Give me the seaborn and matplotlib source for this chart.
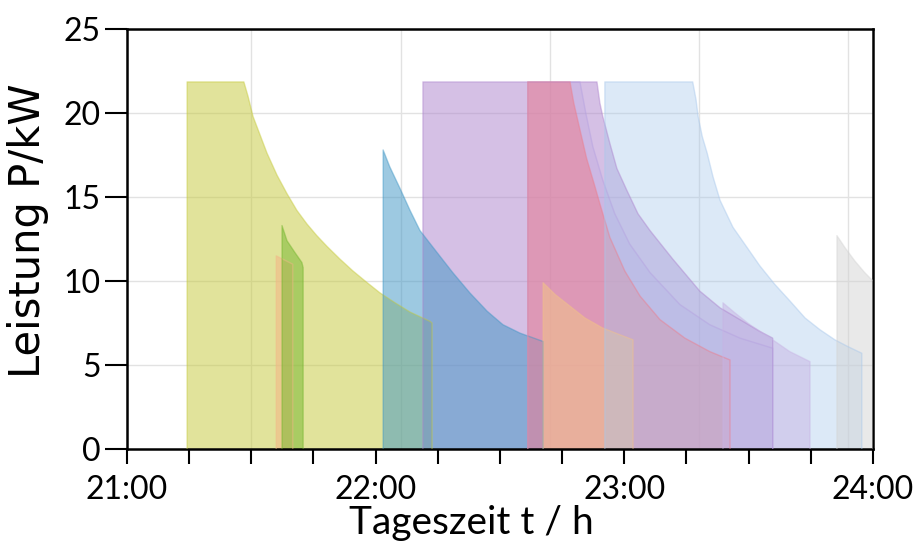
import numpy as np
import pandas as pd
import matplotlib
matplotlib.use("Agg")
import matplotlib.pyplot as plt
import seaborn as sns

# ---------------- data (time in minutes after 21:00, power in kW) ----------------
yellow_t = [14.5, 14.5, 28.2, 29.2, 30.4, 32.1, 33.8, 36.2, 38.6, 41.0, 43.4, 45.8, 48.3,
            51.4, 54.5, 57.7, 61.0, 64.7, 68.3, 73.1, 73.6, 73.6]
yellow_p = [0, 21.85, 21.85, 21.0, 19.8, 18.7, 17.6, 16.3, 15.2, 14.2, 13.4, 12.7, 12.05,
            11.3, 10.6, 9.95, 9.3, 8.7, 8.15, 7.6, 7.5, 0]

orange1_t = [36.0, 36.0, 40.0, 40.0]
orange1_p = [0, 11.5, 11.0, 0]

green_t = [37.4, 37.4, 38.6, 40.5, 42.2, 42.5, 42.5]
green_p = [0, 13.3, 12.4, 11.7, 11.1, 10.8, 0]

purple_t = [71.4, 71.4, 113.4, 114.1, 114.8, 116.5, 118.2, 120.6, 123.3, 126.2, 131.7,
            138.2, 143.1, 147.9, 152.7, 155.8, 155.8]
purple_p = [0, 21.85, 21.85, 20.6, 19.8, 18.2, 16.7, 15.4, 14.0, 13.0, 11.3,
            9.4, 8.4, 7.7, 7.0, 6.6, 0]

blue_t = [61.8, 61.8, 63.4, 65.9, 68.3, 70.7, 74.8, 78.6, 82.7, 86.9, 90.7, 94.8, 100.4, 100.4]
blue_p = [0, 17.8, 16.8, 15.5, 14.2, 13.0, 11.7, 10.5, 9.3, 8.2, 7.4, 6.9, 6.4, 0]

lavender_t = [96.7, 96.7, 109.3, 110.7, 112.4, 114.8, 117.7, 121.3, 126.2, 133.4, 140.6,
              147.9, 155.8, 155.8]
lavender_p = [0, 21.85, 21.85, 20.0, 18.0, 16.0, 14.0, 12.2, 10.5, 8.6, 7.4,
              6.6, 6.0, 0]

pink_t = [96.7, 96.7, 106.9, 107.8, 109.3, 110.9, 112.7, 114.1, 116.5, 120.1, 123.8,
          128.6, 134.6, 140.6, 145.5, 145.5]
pink_p = [0, 21.85, 21.85, 20.6, 19.0, 17.3, 15.8, 14.6, 12.6, 10.6, 9.1,
          7.7, 6.6, 5.8, 5.3, 0]

orange2_t = [100.4, 100.4, 103.3, 106.9, 110.5, 114.8, 118.9, 122.1, 122.1]
orange2_p = [0, 9.9, 9.2, 8.5, 7.8, 7.2, 6.8, 6.5, 0]

lightblue_t = [115.3, 115.3, 136.5, 137.3, 137.8, 138.8, 140.0, 141.4, 143.1, 146.2, 149.6,
               152.7, 156.3, 160.0, 163.6, 167.2, 170.8, 173.9, 177.3, 177.3]
lightblue_p = [0, 21.85, 21.85, 20.8, 19.8, 18.6, 17.6, 16.2, 14.8, 13.2, 12.0,
               10.9, 9.8, 8.8, 7.8, 7.1, 6.5, 6.1, 5.7, 0]

lilac_t = [143.8, 143.8, 146.7, 150.3, 155.8, 159.9, 164.8, 164.8]
lilac_p = [0, 8.7, 8.1, 7.4, 6.5, 5.8, 5.2, 0]

grey_t = [171.3, 171.3, 173.2, 175.6, 178.0, 180.0, 180.0]
grey_p = [0, 12.7, 12.0, 11.2, 10.5, 10.0, 0]

x_ticks = [21.0, 21.25, 21.5, 21.75, 22.0, 22.25, 22.5, 22.75, 23.0, 23.25, 23.5, 23.75, 24.0]
x_tick_labels = ["21:00", "", "", "", "22:00", "", "", "", "23:00", "", "", "", "24:00"]
y_ticks = [0, 5, 10, 15, 20, 25]
y_tick_labels = ["0", "5", "10", "15", "20", "25"]

# ---------------- styling ----------------
series = [
    ("yellow", yellow_t, yellow_p, "#c5c939", 0.5),
    ("orange1", orange1_t, orange1_p, "#f2b888", 0.6),
    ("green", green_t, green_p, "#72b62c", 0.5),
    ("purple", purple_t, purple_p, "#ad83cd", 0.5),
    ("blue", blue_t, blue_p, "#3d95c5", 0.5),
    ("lavender", lavender_t, lavender_p, "#b4a0e0", 0.25),
    ("pink", pink_t, pink_p, "#ee7b8a", 0.5),
    ("orange2", orange2_t, orange2_p, "#f2c288", 0.55),
    ("lightblue", lightblue_t, lightblue_p, "#a8c8ec", 0.4),
    ("lilac", lilac_t, lilac_p, "#c8b4e4", 0.5),
    ("grey", grey_t, grey_p, "#d4d4d4", 0.5),
]

rows = []
for name, t, p, c, a in series:
    for ti, pi in zip(t, p):
        rows.append({"series": name, "hour": 21 + ti / 60.0, "P": pi})
df = pd.DataFrame(rows)

sns.set_theme(style="white")
plt.rcParams["font.family"] = ["Lato", "DejaVu Sans"]

fig = plt.figure(figsize=(9.21, 5.45), dpi=100)
ax = fig.add_axes([127 / 921, 96 / 545, 746 / 921, 420 / 545])

# background grid (light)
for y in [5, 10, 15, 20]:
    ax.axhline(y, color="#e2e2e2", lw=1.0, zorder=0)
for x in [21.5, 22.1, 22.7, 23.3, 23.9]:
    ax.axvline(x, color="#e2e2e2", lw=1.0, zorder=0)

for i, (name, t, p, c, a) in enumerate(series):
    sub = df[df["series"] == name]
    ax.fill(sub["hour"], sub["P"], color=c, alpha=a, lw=0, zorder=2 + i * 0.01)

palette = {name: c for name, t, p, c, a in series}
sns.lineplot(data=df, x="hour", y="P", hue="series", palette=palette, estimator=None,
             sort=False, legend=False, lw=1.0, alpha=0.45, ax=ax, zorder=3)

ax.set_xlim(21, 24)
ax.set_ylim(0, 25)
ax.set_xticks(x_ticks)
ax.set_xticklabels(x_tick_labels)
ax.set_yticks(y_ticks)
ax.set_yticklabels(y_tick_labels)
ax.tick_params(axis="x", direction="out", length=11, width=1.5, pad=8, labelsize=23,
               bottom=True, colors="black")
ax.tick_params(axis="y", direction="out", length=16, width=1.5, pad=3, labelsize=23,
               left=True, colors="black")
for s in ax.spines.values():
    s.set_color("black")
    s.set_linewidth(1.8)
    s.set_visible(True)

ax.set_xlabel("Tageszeit t / h", fontsize=28, color="black")
ax.set_ylabel("Leistung P/kW", fontsize=30, color="black", family=["DejaVu Sans"])
ax.xaxis.set_label_coords(0.462, -0.134)
ax.yaxis.set_label_coords(-0.104, 0.52)
ax.xaxis.label.set_va("top")

fig.savefig("out.png", dpi=100)
